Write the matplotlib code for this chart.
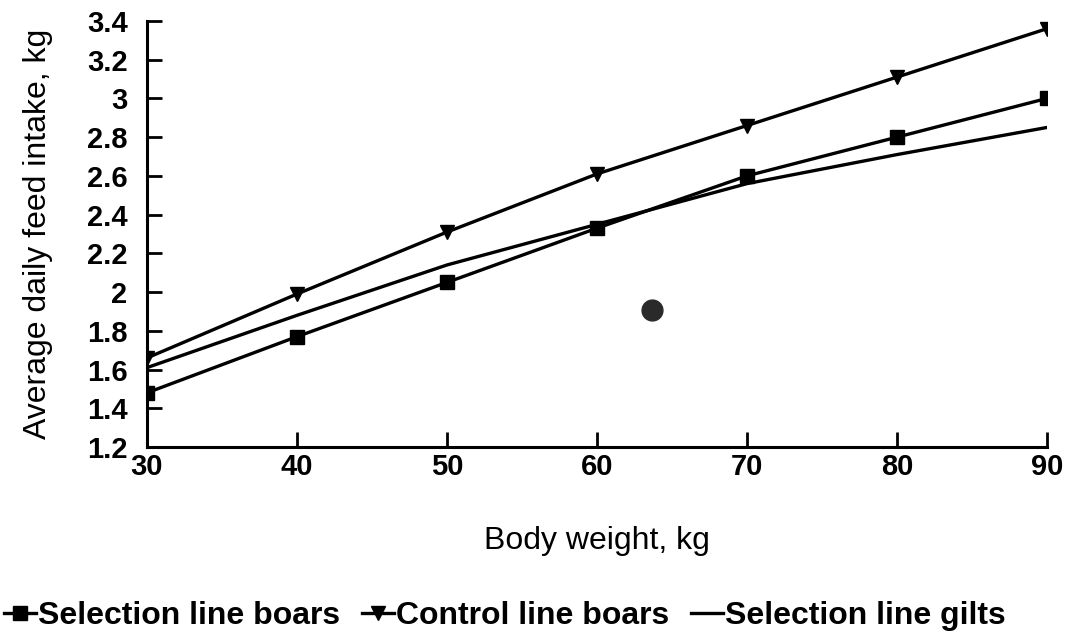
import matplotlib.pyplot as plt
from matplotlib.ticker import FixedLocator

plt.rcParams['font.family'] = ['Liberation Sans', 'DejaVu Sans']

# body weight, kg
weights = [30, 40, 50, 60, 70, 80, 90]
# average daily feed intake, kg
selection_boars = [1.48, 1.77, 2.05, 2.33, 2.60, 2.80, 3.00]
control_boars = [1.66, 1.99, 2.31, 2.61, 2.86, 3.11, 3.36]
selection_gilts = [1.61, 1.88, 2.14, 2.35, 2.56, 2.71, 2.85]

y_ticks = [1.2, 1.4, 1.6, 1.8, 2, 2.2, 2.4, 2.6, 2.8, 3, 3.2, 3.4]
y_tick_labels = ['1.2', '1.4', '1.6', '1.8', '2', '2.2', '2.4', '2.6', '2.8', '3', '3.2', '3.4']

# scan smudge visible in the original figure
smudge_x, smudge_y = [63.7], [1.91]

fig = plt.figure(figsize=(10.65, 6.35), dpi=100)
ax = fig.add_axes([0.138, 0.296, 0.845, 0.671])

ax.plot(weights, selection_boars, color='black', lw=2.4, marker='s', ms=10,
        label='Selection line boars')
ax.plot(weights, control_boars, color='black', lw=2.4, marker='v', ms=10,
        label='Control line boars')
ax.plot(weights, selection_gilts, color='black', lw=2.4,
        label='Selection line gilts')
ax.plot(smudge_x, smudge_y, 'o', color='#2a2a2a', ms=15, label='_nolegend_')

ax.set_xlim(30, 90)
ax.set_ylim(1.2, 3.4)
ax.xaxis.set_major_locator(FixedLocator(weights))
ax.set_yticks(y_ticks)
ax.set_yticklabels(y_tick_labels)

for s in ['top', 'right']:
    ax.spines[s].set_visible(False)
for s in ['left', 'bottom']:
    ax.spines[s].set_linewidth(2.2)

ax.tick_params(axis='both', direction='in', length=11, width=2, labelsize=21)
ax.tick_params(axis='x', pad=4)
ax.tick_params(axis='y', pad=14)
for lbl in ax.get_xticklabels() + ax.get_yticklabels():
    lbl.set_fontweight('bold')

ax.set_xlabel('Body weight, kg', fontsize=23, labelpad=33)
ax.set_ylabel('Average daily feed intake, kg', fontsize=23, labelpad=24)

fig.legend(loc='center', bbox_to_anchor=(0.474, 0.03), ncol=3, frameon=False,
           handlelength=1.0, handletextpad=0.05, columnspacing=0.7,
           prop={'size': 23, 'weight': 'bold'})

fig.savefig('out.png', dpi=100, facecolor='white')
